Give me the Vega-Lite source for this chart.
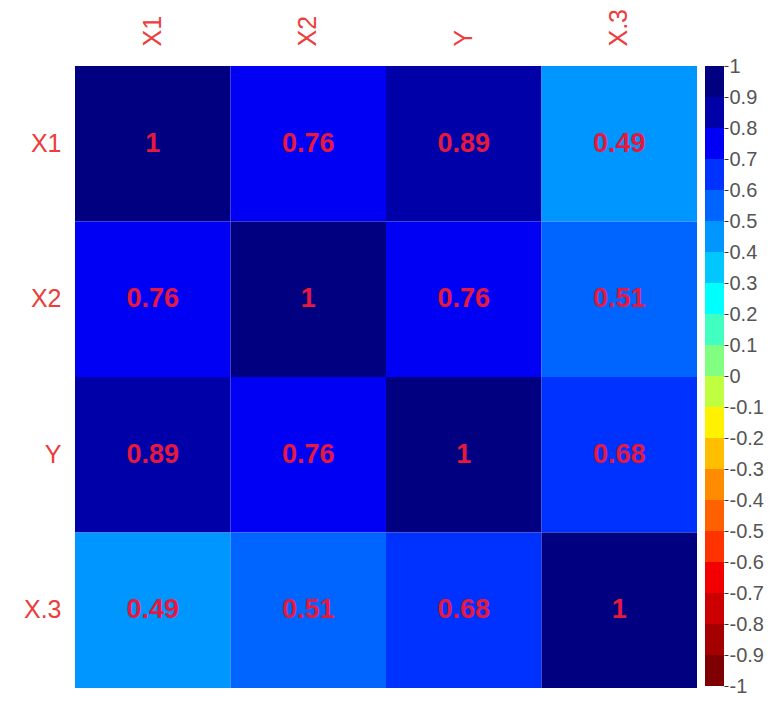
{
  "$schema": "https://vega.github.io/schema/vega-lite/v6.json",
  "padding": {"left": 23, "top": 8, "right": 0, "bottom": 5},
  "background": "white",
  "config": {"view": {"stroke": null}, "font": "Liberation Sans", "concat": {"spacing": 8}},
  "datasets": {
    "cells": [
      {"row": "X1", "col": "X1", "r": 1},
      {"row": "X1", "col": "X2", "r": 0.76},
      {"row": "X1", "col": "Y", "r": 0.89},
      {"row": "X1", "col": "X.3", "r": 0.49},
      {"row": "X2", "col": "X1", "r": 0.76},
      {"row": "X2", "col": "X2", "r": 1},
      {"row": "X2", "col": "Y", "r": 0.76},
      {"row": "X2", "col": "X.3", "r": 0.51},
      {"row": "Y", "col": "X1", "r": 0.89},
      {"row": "Y", "col": "X2", "r": 0.76},
      {"row": "Y", "col": "Y", "r": 1},
      {"row": "Y", "col": "X.3", "r": 0.68},
      {"row": "X.3", "col": "X1", "r": 0.49},
      {"row": "X.3", "col": "X2", "r": 0.51},
      {"row": "X.3", "col": "Y", "r": 0.68},
      {"row": "X.3", "col": "X.3", "r": 1}
    ],
    "bins": [
      {"lo": -1, "hi": -0.9}, {"lo": -0.9, "hi": -0.8}, {"lo": -0.8, "hi": -0.7}, {"lo": -0.7, "hi": -0.6},
      {"lo": -0.6, "hi": -0.5}, {"lo": -0.5, "hi": -0.4}, {"lo": -0.4, "hi": -0.3}, {"lo": -0.3, "hi": -0.2},
      {"lo": -0.2, "hi": -0.1}, {"lo": -0.1, "hi": 0}, {"lo": 0, "hi": 0.1}, {"lo": 0.1, "hi": 0.2},
      {"lo": 0.2, "hi": 0.3}, {"lo": 0.3, "hi": 0.4}, {"lo": 0.4, "hi": 0.5}, {"lo": 0.5, "hi": 0.6},
      {"lo": 0.6, "hi": 0.7}, {"lo": 0.7, "hi": 0.8}, {"lo": 0.8, "hi": 0.9}, {"lo": 0.9, "hi": 1}
    ]
  },
  "resolve": {"scale": {"color": "independent"}},
  "hconcat": [
    {
      "width": 622,
      "height": 622,
      "data": {"name": "cells"},
      "encoding": {
        "x": {"field": "col", "type": "nominal", "sort": ["X1", "X2", "Y", "X.3"],
          "scale": {"paddingInner": 0, "paddingOuter": 0},
          "axis": {"orient": "top", "title": null, "labelAngle": -90, "labelAlign": "left", "labelBaseline": "middle",
            "ticks": false, "domain": false, "labelColor": "#EE3B3B", "labelFontSize": 25, "labelPadding": 20}},
        "y": {"field": "row", "type": "nominal", "sort": ["X1", "X2", "Y", "X.3"],
          "scale": {"paddingInner": 0, "paddingOuter": 0},
          "axis": {"title": null, "ticks": false, "domain": false, "labelColor": "#EE3B3B", "labelFontSize": 25, "labelPadding": 14}}
      },
      "layer": [
        {
          "mark": {"type": "rect"},
          "encoding": {
            "color": {"field": "r", "type": "quantitative", "legend": null,
              "scale": {"type": "threshold",
                "domain": [-0.9, -0.8, -0.7, -0.6, -0.5, -0.4, -0.3, -0.2, -0.1, 0, 0.1, 0.2, 0.3, 0.4, 0.5, 0.6, 0.7, 0.8, 0.9],
                "range": ["#7F0000", "#A50000", "#CC0000", "#F20000", "#FF3300", "#FF6000", "#FF8C00", "#FFBF00", "#FFF200", "#C0FF40",
                          "#80FF80", "#40FFC0", "#00FFFF", "#00C8FF", "#0096FF", "#0064FF", "#0032FF", "#0000F5", "#0000A8", "#000080"]}}
          }
        },
        {
          "mark": {"type": "text", "font": "Liberation Sans", "fontSize": 27, "fontWeight": "bold", "color": "#E5193F"},
          "encoding": {"text": {"field": "r", "type": "quantitative", "format": "~g"}}
        }
      ]
    },
    {
      "width": 19,
      "height": 620,
      "data": {"name": "bins"},
      "mark": {"type": "rect"},
      "encoding": {
        "y": {"field": "lo", "type": "quantitative", "scale": {"domain": [-1, 1], "nice": false, "zero": false},
          "axis": {"orient": "right", "title": null, "values": [-1, -0.9, -0.8, -0.7, -0.6, -0.5, -0.4, -0.3, -0.2, -0.1, 0, 0.1, 0.2, 0.3, 0.4, 0.5, 0.6, 0.7, 0.8, 0.9, 1],
            "labelExpr": "'' + datum.value", "grid": false, "domain": false, "tickColor": "#333333", "tickSize": 4, "labelColor": "#555555",
            "labelFontSize": 20, "labelPadding": 1, "labelOverlap": false, "labelFlush": false}},
        "y2": {"field": "hi"},
        "color": {"field": "lo", "type": "quantitative", "legend": null,
          "scale": {"type": "threshold",
            "domain": [-0.9, -0.8, -0.7, -0.6, -0.5, -0.4, -0.3, -0.2, -0.1, 0, 0.1, 0.2, 0.3, 0.4, 0.5, 0.6, 0.7, 0.8, 0.9],
            "range": ["#7F0000", "#A50000", "#CC0000", "#F20000", "#FF3300", "#FF6000", "#FF8C00", "#FFBF00", "#FFF200", "#C0FF40",
                      "#80FF80", "#40FFC0", "#00FFFF", "#00C8FF", "#0096FF", "#0064FF", "#0032FF", "#0000F5", "#0000A8", "#000080"]}}
      }
    }
  ]
}
